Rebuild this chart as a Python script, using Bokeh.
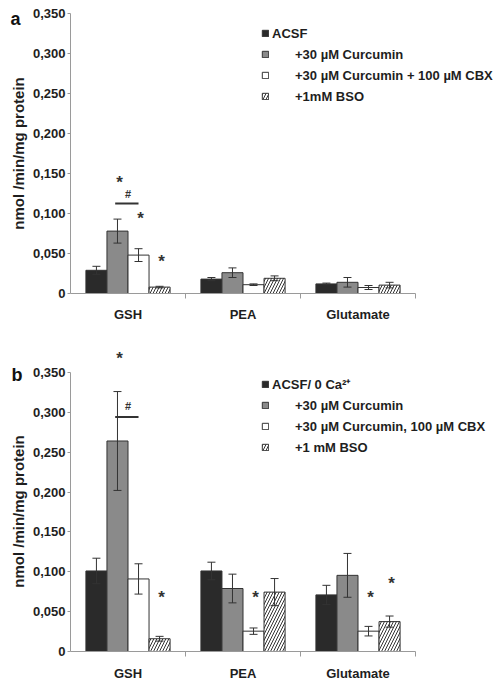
import math
from bokeh.plotting import figure
from bokeh.models import (ColumnDataSource, Range1d, FixedTicker, Legend, LegendItem,
                          Whisker, TeeHead, Label)
from bokeh.layouts import column
from bokeh.embed import file_html
from bokeh.resources import INLINE
from bokeh.core.properties import value

# ---------------- data ----------------
categories = ["GSH", "PEA", "Glutamate"]
y_ticks = [0, 0.05, 0.1, 0.15, 0.2, 0.25, 0.3, 0.35]
y_tick_labels = ["0", "0,050", "0,100", "0,150", "0,200", "0,250", "0,300", "0,350"]
y_axis_title = "nmol /min/mg protein"

# panel a
series_a = ["ACSF", "+30 µM Curcumin", "+30 µM Curcumin + 100 µM CBX", "+1mM BSO"]
a_acsf = [0.029, 0.018, 0.012]
a_acsf_err = [0.005, 0.002, 0.001]
a_curc = [0.078, 0.026, 0.014]
a_curc_err = [0.015, 0.006, 0.006]
a_cbx = [0.048, 0.011, 0.0075]
a_cbx_err = [0.008, 0.001, 0.0025]
a_bso = [0.008, 0.019, 0.0105]
a_bso_err = [0.001, 0.003, 0.0035]

# panel b
series_b = ["ACSF/ 0 Ca²⁺", "+30 µM Curcumin", "+30 µM Curcumin, 100 µM CBX", "+1 mM BSO"]
b_acsf = [0.101, 0.101, 0.071]
b_acsf_err = [0.016, 0.011, 0.012]
b_curc = [0.264, 0.079, 0.0955]
b_curc_err = [0.062, 0.018, 0.0275]
b_cbx = [0.091, 0.0255, 0.0255]
b_cbx_err = [0.019, 0.004, 0.006]
b_bso = [0.016, 0.0745, 0.0375]
b_bso_err = [0.003, 0.017, 0.007]

# significance marks: (category index, series index, height of mark)
a_star_cat = [0, 0, 0]
a_star_ser = [1, 2, 3]
a_star_y = [0.143, 0.098, 0.044]
a_hash_y = 0.124
a_hash_line_y = 0.1125

b_star_cat = [0, 0, 1, 2, 2]
b_star_ser = [1, 3, 2, 2, 3]
b_star_y = [0.371, 0.071, 0.071, 0.071, 0.089]
b_hash_y = 0.308
b_hash_line_y = 0.294

# ---------------- style ----------------
FONT = "Liberation Sans"
TXT = "#1e1e1e"
AX = "#9a9a9a"
EDGE = "#333333"
BW = 0.183
FILLS = ["#2a2a2a", "#8a8a8a", "#ffffff", "#ffffff"]
HATCH = [None, None, None, "/"]
PX_PER_CAT = 115.0
FIG_W = 497
LEFT = 70


def xpos(cat, ser):
    return cat + 0.5 + (ser - 1.5) * BW


def make_panel(tag, names, vals, errs, s_cat, s_ser, s_y, hash_y, hash_line_y,
               height, y_end, top_b, bottom_b, leg_rows, tag_xy, x_standoff):
    frame_w = FIG_W - LEFT
    frame_h = height - top_b - bottom_b
    p = figure(width=FIG_W, height=height,
               x_range=Range1d(0, frame_w / PX_PER_CAT), y_range=Range1d(0, y_end),
               output_backend="svg", toolbar_location=None,
               min_border_left=LEFT, min_border_right=0,
               min_border_top=top_b, min_border_bottom=bottom_b)
    p.outline_line_color = None
    p.xgrid.visible = False
    p.ygrid.visible = False

    renderers = []
    for s in range(4):
        xs = [xpos(c, s) for c in range(len(categories))]
        src = ColumnDataSource(dict(x=xs, top=vals[s],
                                    upper=[v + e for v, e in zip(vals[s], errs[s])],
                                    lower=[v - e for v, e in zip(vals[s], errs[s])]))
        kw = {}
        if HATCH[s]:
            kw = dict(hatch_pattern=HATCH[s], hatch_color=EDGE, hatch_scale=6, hatch_weight=1)
        r = p.vbar(x="x", top="top", bottom=0, width=BW, source=src,
                   fill_color=FILLS[s], line_color=EDGE, line_width=1, **kw)
        renderers.append(r)
        w = Whisker(source=src, base="x", upper="upper", lower="lower",
                    line_color=EDGE, line_width=1, level="overlay",
                    upper_head=TeeHead(size=8, line_color=EDGE, line_width=1),
                    lower_head=TeeHead(size=8, line_color=EDGE, line_width=1))
        p.add_layout(w)

    # significance stars
    sx = [xpos(c, s) for c, s in zip(s_cat, s_ser)]
    p.text(x=sx, y=s_y, text=["*"] * len(sx), text_font=value(FONT),
           text_font_size="17px", text_font_style="bold", text_color="#333333",
           text_align="center", text_baseline="alphabetic", x_offset=2, y_offset=3)
    # hash bracket
    hx = (xpos(0, 1) + xpos(0, 2)) / 2
    p.text(x=[hx], y=[hash_y], text=["#"], text_font=value(FONT),
           text_font_size="11px", text_font_style="bold", text_color="#333333",
           text_align="center", text_baseline="alphabetic", y_offset=0)
    p.segment(x0=[xpos(0, 1) - 0.02], y0=[hash_line_y], x1=[xpos(0, 2)],
              y1=[hash_line_y], line_color="#333333", line_width=2)

    # axes
    ya = p.yaxis[0]
    ya.ticker = FixedTicker(ticks=y_ticks, minor_ticks=[])
    ya.major_label_overrides = dict(zip(y_ticks, y_tick_labels))
    ya.bounds = (0, 0.35)
    ya.axis_line_color = AX
    ya.major_tick_line_color = AX
    ya.major_tick_out = 3
    ya.major_tick_in = 0
    ya.minor_tick_line_color = None
    ya.major_label_standoff = 2
    ya.major_label_text_font = FONT
    ya.major_label_text_font_size = "13px"
    ya.major_label_text_font_style = "bold"
    ya.major_label_text_color = TXT

    xa = p.xaxis[0]
    xa.ticker = FixedTicker(ticks=[0.5, 1.5, 2.5], minor_ticks=[1, 2, 3])
    xa.major_label_overrides = {0.5: categories[0], 1.5: categories[1], 2.5: categories[2]}
    xa.bounds = (0, 3)
    xa.axis_line_color = AX
    xa.major_tick_line_color = None
    xa.major_tick_out = 0
    xa.major_tick_in = 0
    xa.minor_tick_line_color = AX
    xa.minor_tick_out = 5
    xa.minor_tick_in = 0
    xa.major_label_standoff = x_standoff
    xa.major_label_text_font = FONT
    xa.major_label_text_font_size = "13px"
    xa.major_label_text_font_style = "bold"
    xa.major_label_text_color = TXT

    # legends (first entry has a tighter label gap, as in the original)
    (vy1, vy2) = leg_rows
    common = dict(padding=0, margin=0, spacing=1, border_line_color=None,
                  background_fill_alpha=0, glyph_width=8, glyph_height=8,
                  label_height=20, label_text_font=FONT, label_text_font_size="13px",
                  label_text_font_style="bold", label_text_color=TXT)
    leg1 = Legend(items=[LegendItem(label=names[0], renderers=[renderers[0]])],
                  location=(191, vy1), label_standoff=3, **common)
    leg2 = Legend(items=[LegendItem(label=names[i], renderers=[renderers[i]]) for i in (1, 2, 3)],
                  location=(191, vy2), label_standoff=26, **common)
    p.add_layout(leg1)
    p.add_layout(leg2)

    # y-axis title and panel tag live in the left side panel
    tx, ty = tag_xy
    p.add_layout(Label(x=17.5, y=frame_h / 2 if y_end == 0.35 else 0.175 * frame_h / y_end,
                       x_units="canvas", y_units="screen",
                       text=y_axis_title, angle=math.pi / 2, text_align="center",
                       text_baseline="middle", text_font=FONT, text_font_size="15px",
                       text_font_style="bold", text_color=TXT), "left")
    p.add_layout(Label(x=tx, y=ty, x_units="canvas", y_units="screen", text=tag,
                       text_font=FONT, text_font_size="18px", text_font_style="bold",
                       text_color="#111111", text_baseline="alphabetic"), "left")
    return p


vals_a = [a_acsf, a_curc, a_cbx, a_bso]
errs_a = [a_acsf_err, a_curc_err, a_cbx_err, a_bso_err]
vals_b = [b_acsf, b_curc, b_cbx, b_bso]
errs_b = [b_acsf_err, b_curc_err, b_cbx_err, b_bso_err]

pa = make_panel("a", series_a, vals_a, errs_a, a_star_cat, a_star_ser, a_star_y,
                a_hash_y, a_hash_line_y, height=335, y_end=0.35, top_b=13, bottom_b=42,
                leg_rows=(250, 187), tag_xy=(10, 275), x_standoff=8)
pb = make_panel("b", series_b, vals_b, errs_b, b_star_cat, b_star_ser, b_star_y,
                b_hash_y, b_hash_line_y, height=348, y_end=0.38, top_b=13, bottom_b=31,
                leg_rows=(257, 194), tag_xy=(11, 277), x_standoff=9)

layout = column(pa, pb, spacing=0)
open("out.html", "w").write(file_html(layout, INLINE))
